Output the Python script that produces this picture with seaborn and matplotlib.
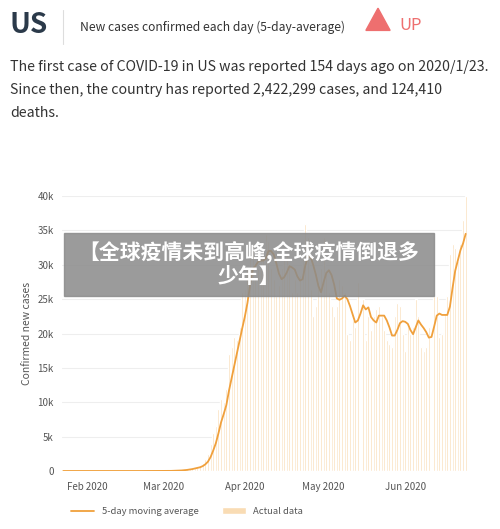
import numpy as np, pandas as pd
import matplotlib
matplotlib.use("Agg")
import matplotlib.pyplot as plt
import seaborn as sns
from matplotlib.patches import Rectangle, RegularPolygon

sns.set_theme(style="white")
plt.rcParams['font.family'] = ['Noto Sans CJK SC', 'DejaVu Sans']

start = "2020-01-23"
early = [1,0,0,1,0,0,0,0,1,0,2,0,0,0,0,0,1,0,0,0,0,1,0,0,0,0,0,0,3,1,3,5,8,0,1,2,3,0]
march = [10,20,25,30,70,80,100,120,190,290,370,400,550,650,750,1200,1700,2500,4000,5500,
         6500,9000,10500,10000,12000,17000,18000,19500,19000,21000,26000]
april = [26500,29500,32000,33000,28000,29500,30500,32000,34500,33500,29500,28000,25500,27000,29500,
         31000,31500,30000,26000,28000,26000,28500,31000,36000,34000,26500,22500,24000,27500,29500]
may = [34000,29000,26000,24000,22500,24000,28000,27000,26000,20000,19000,22000,21000,27500,25000,
       25000,19000,22500,20500,22500,23500,24000,22500,20500,19000,18500,18000,22500,24500,24000,20000]
june = [17500,21000,20000,21000,25000,22500,18000,17500,18000,21000,23000,25500,25500,19500,20000,
        23000,25500,31500,33000,32500,30500,33000,36500,40000]
cases = early + march + april + may + june
dates = pd.date_range(start, periods=len(cases), freq="D")
df = pd.DataFrame({"date": dates, "cases": cases})
df["ma"] = df["cases"].rolling(5, min_periods=1).mean()

fig = plt.figure(figsize=(5, 5.29), dpi=100)
ax = fig.add_axes([62/500, 1-471/529, (467-62)/500, (471-196)/529])
ax.bar(df["date"], df["cases"], width=0.75, color="#f9dcb4", label="Actual data")
sns.lineplot(data=df, x="date", y="ma", ax=ax, color="#f0a03c", lw=1.3, label="5-day moving average")
ax.set_ylim(0, 40000)
ax.set_xlim(dates[0]-pd.Timedelta(days=0.5), dates[-1]+pd.Timedelta(days=0.5))
ax.set_yticks(range(0, 40001, 5000))
ax.set_yticklabels(["0"] + [f"{k}k" for k in range(5, 41, 5)])
ticks = pd.to_datetime(["2020-02-01","2020-03-01","2020-04-01","2020-05-01","2020-06-01"])
ax.set_xticks(ticks)
ax.set_xticklabels(["Feb 2020","Mar 2020","Apr 2020","May 2020","Jun 2020"])
ax.tick_params(axis="both", labelsize=7, colors="#555555", length=0, pad=6)
ax.tick_params(axis="x", length=4, color="#dddddd", pad=4)
ax.yaxis.grid(True, color="#eeeeee", lw=0.8)
for s in ax.spines.values():
    s.set_visible(False)
ax.set_xlabel("")
ax.set_ylabel("Confirmed new cases", fontsize=7.5, color="#555555")
h, l = ax.get_legend_handles_labels()
order = [l.index("5-day moving average"), l.index("Actual data")]
ax.legend([h[i] for i in order], [l[i] for i in order], loc="upper left", bbox_to_anchor=(0.0, -0.1),
          ncol=2, frameon=False, fontsize=6.8, labelcolor="#555555", handlelength=2.5, columnspacing=2.5)

# header
fig.text(10/500, 1-25/529, "US", fontsize=20, color="#2b3a4a", va="center", weight="bold")
fig.add_artist(plt.Line2D([63/500, 63/500], [1-10/529, 1-44/529], color="#dddddd", lw=0.8))
fig.text(80/500, 1-27/529, "New cases confirmed each day (5-day-average)", fontsize=8.7, color="#333333", va="center")
fig.add_artist(RegularPolygon((378/500, 1-23/529), 3, radius=0.028, color="#ee6f6f", transform=fig.transFigure))
fig.text(399/500, 1-26/529, "UP", fontsize=12, color="#ee6f6f", va="center")
body = ("The first case of COVID-19 in US was reported 154 days ago on 2020/1/23.\n"
        "Since then, the country has reported 2,422,299 cases, and 124,410\ndeaths.")
fig.text(10/500, 1-60/529, body, fontsize=10.2, color="#333333", va="top", linespacing=1.8)

# watermark
fig.add_artist(Rectangle((64/500, 1-296/529), 370/500, 63/529, transform=fig.transFigure,
                         color="#8a8a8a", alpha=0.85))
fig.text(249/500, 1-264/529, "【全球疫情未到高峰,全球疫情倒退多\n少年】", fontsize=15, color="white",
         weight="bold", ha="center", va="center", linespacing=1.15)
fig.savefig("out.png", dpi=100)
